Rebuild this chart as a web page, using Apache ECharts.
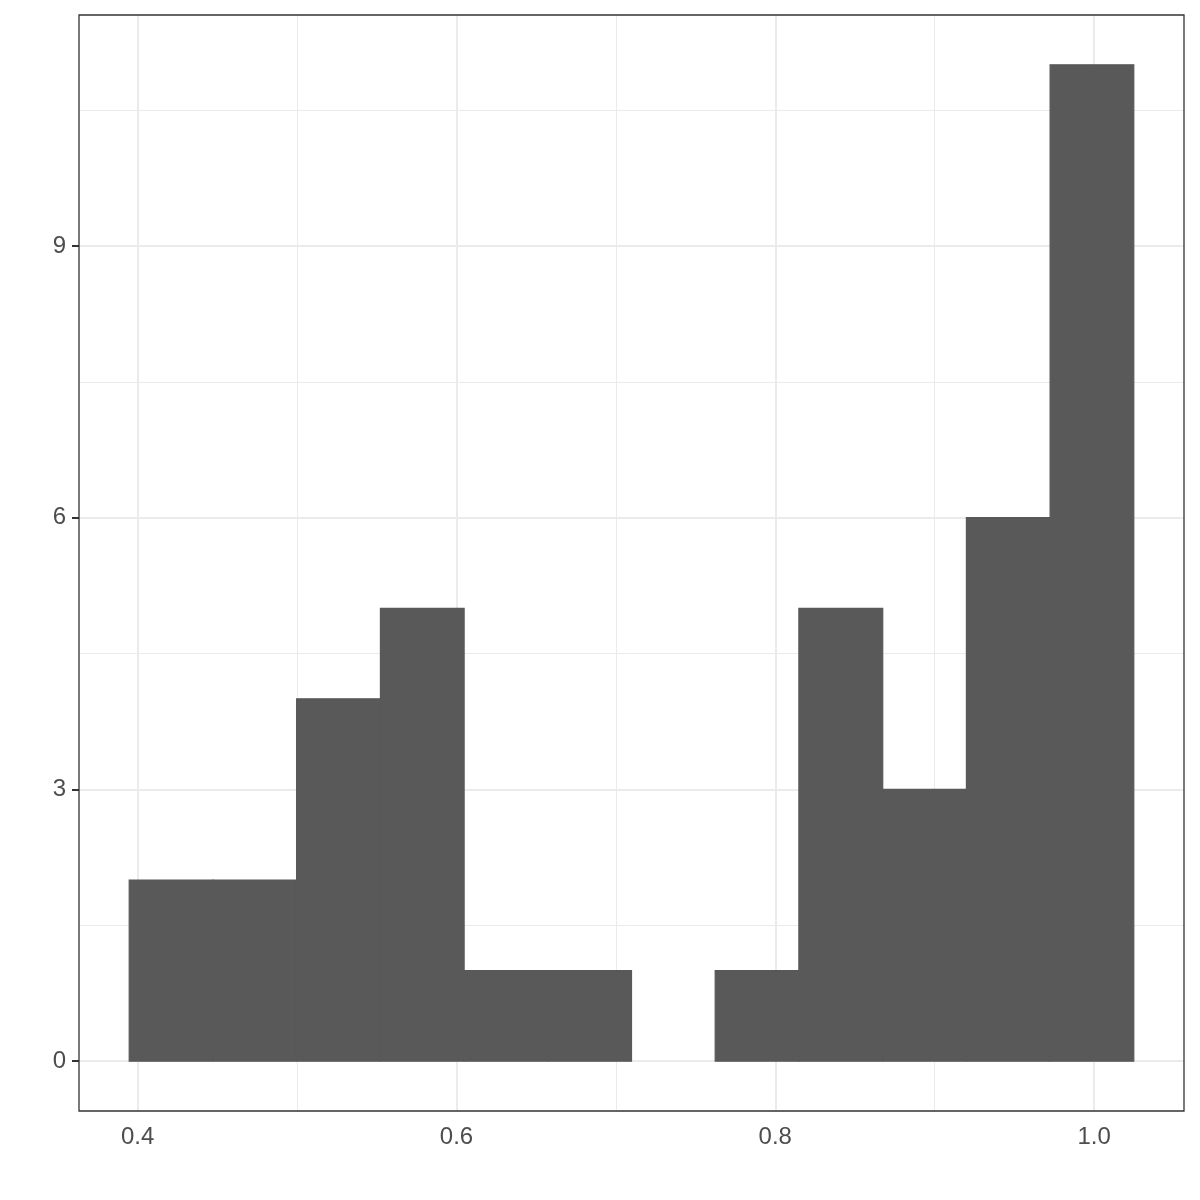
<!DOCTYPE html>
<html>
<head>
<meta charset="utf-8">
<script src="https://cdn.jsdelivr.net/npm/echarts@6/dist/echarts.min.js"></script>
<style>html,body{margin:0;padding:0;background:#fff}#c{width:1200px;height:1200px}</style>
</head>
<body>
<div id="c"></div>
<script>
// Histogram bin edges (13 edges -> 12 bins) and counts
var binEdges = [0.3947, 0.4472, 0.4997, 0.5523, 0.6048, 0.6573, 0.7098, 0.7623, 0.8148, 0.8674, 0.9199, 0.9724, 1.0249];
var counts = [2, 2, 4, 5, 1, 1, 0, 1, 5, 3, 6, 11];
var xTicks = [0.4, 0.6, 0.8, 1.0];
var xTickLabels = ['0.4', '0.6', '0.8', '1.0'];
var xMinor = [0.5, 0.7, 0.9];
var yTicks = [0, 3, 6, 9];
var yTickLabels = ['0', '3', '6', '9'];
var yMinor = [1.5, 4.5, 7.5, 10.5];

var xMin = 0.3632, xMax = 1.0564, yMin = -0.55, yMax = 11.55;

var barData = counts.map(function (c, i) { return [binEdges[i], binEdges[i + 1], c]; });

var gridLines = [];
xMinor.forEach(function (v) { gridLines.push({ xAxis: v, lineStyle: { color: '#ebebeb', width: 1, type: 'solid' } }); });
yMinor.forEach(function (v) { gridLines.push({ yAxis: v, lineStyle: { color: '#ebebeb', width: 1, type: 'solid' } }); });
xTicks.forEach(function (v) { gridLines.push({ xAxis: v, lineStyle: { color: '#ebebeb', width: 2, type: 'solid' } }); });
yTicks.forEach(function (v) { gridLines.push({ yAxis: v, lineStyle: { color: '#ebebeb', width: 2, type: 'solid' } }); });

var chart = echarts.init(document.getElementById('c'), null, { renderer: 'canvas' });
chart.setOption({
  animation: false,
  backgroundColor: '#ffffff',
  grid: { left: 79, top: 15, right: 16, bottom: 89, show: true, borderColor: '#333333', borderWidth: 1.3, backgroundColor: 'transparent', z: 10 },
  xAxis: {
    type: 'value', min: xMin, max: xMax,
    axisLine: { show: false },
    splitLine: { show: false },
    axisTick: { show: true, length: 7, customValues: xTicks, lineStyle: { color: '#333333', width: 2 } },
    axisLabel: {
      customValues: xTicks, margin: 14,
      color: '#4d4d4d', fontSize: 24, fontFamily: 'Liberation Sans, Arial, sans-serif',
      formatter: function (v) { var i = xTicks.findIndex(function (t) { return Math.abs(t - v) < 1e-9; }); return i >= 0 ? xTickLabels[i] : ''; }
    }
  },
  yAxis: {
    type: 'value', min: yMin, max: yMax,
    axisLine: { show: false },
    splitLine: { show: false },
    axisTick: { show: true, length: 7, customValues: yTicks, lineStyle: { color: '#333333', width: 2 } },
    axisLabel: {
      customValues: yTicks, margin: 13,
      color: '#4d4d4d', fontSize: 24, fontFamily: 'Liberation Sans, Arial, sans-serif',
      formatter: function (v) { var i = yTicks.findIndex(function (t) { return Math.abs(t - v) < 1e-9; }); return i >= 0 ? yTickLabels[i] : ''; }
    }
  },
  series: [
    {
      type: 'line', data: [], z: 1, silent: true,
      markLine: { silent: true, symbol: 'none', label: { show: false }, data: gridLines, animation: false }
    },
    {
      type: 'custom', z: 5, silent: true,
      data: barData,
      encode: { x: [0, 1], y: 2 },
      renderItem: function (params, api) {
        var x0 = api.value(0), x1 = api.value(1), c = api.value(2);
        if (c <= 0) return null;
        var p0 = api.coord([x0, c]);
        var p1 = api.coord([x1, 0]);
        return {
          type: 'rect',
          shape: { x: p0[0], y: p0[1], width: p1[0] - p0[0], height: p1[1] - p0[1] },
          style: { fill: '#595959', stroke: '#595959', lineWidth: 1.2 }
        };
      }
    }
  ]
});
</script>
</body>
</html>
